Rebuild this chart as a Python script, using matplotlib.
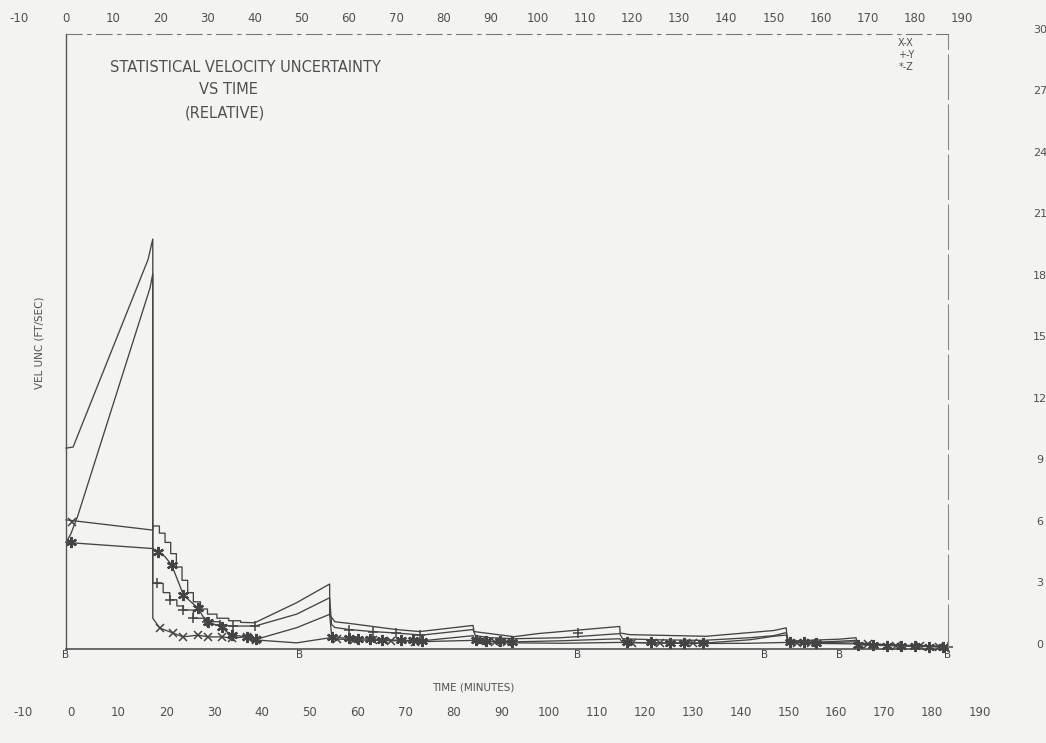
import matplotlib
matplotlib.use('Agg')
import matplotlib.pyplot as plt
from matplotlib.transforms import blended_transform_factory

# time (minutes), velocity uncertainty (ft/sec)
x_pts = [(0, 9.8), (1.5, 9.85), (17.4, 19.0), (18.4, 20.0), (18.4, 1.5), (19.9, 1.02), (22.7, 0.78),
         (24.8, 0.59), (28.0, 0.68), (30.1, 0.59), (33.1, 0.59), (35.2, 0.54), (38.4, 0.59), (40.3, 0.44),
         (48.9, 0.3), (56.0, 0.55), (58, 0.48), (62, 0.44), (66, 0.42), (70, 0.4), (75.5, 0.36),
         (86.3, 0.42), (90, 0.36), (95, 0.3), (105, 0.28), (117, 0.32), (122, 0.3), (128, 0.28),
         (136, 0.27), (145, 0.28), (152.7, 0.32), (156, 0.3), (160, 0.27), (167.5, 0.25), (172, 0.2),
         (177, 0.17), (182, 0.14), (187, 0.1)]
y_pts = [(0, 5.2), (1.0, 5.6), (2.5, 6.5), (17.8, 17.6), (18.4, 18.3), (18.4, 3.2), (20.6, 3.2),
         (20.6, 2.75), (22.0, 2.75), (22.0, 2.4), (23.5, 2.4), (23.5, 2.1), (24.9, 2.1), (24.9, 1.9),
         (27.0, 1.9), (27.0, 1.5), (29.8, 1.5), (29.8, 1.33), (32.6, 1.33), (32.6, 1.17), (35.5, 1.12),
         (40.1, 1.12), (48.9, 1.7), (55.9, 2.5), (56.3, 1.2), (57, 1.05), (60, 0.95), (65, 0.85),
         (70, 0.78), (75.5, 0.68), (86.3, 0.95), (86.8, 0.65), (90, 0.55), (95, 0.5), (105, 0.55),
         (117.4, 0.75), (118, 0.5), (125, 0.45), (135, 0.42), (145, 0.55), (150, 0.65), (152.7, 0.8),
         (153.2, 0.35), (158, 0.32), (164, 0.38), (167.5, 0.42), (168, 0.25), (175, 0.18), (182, 0.14),
         (187, 0.1)]
z_pts = [(0, 5.2), (18.4, 4.9), (19.6, 4.75), (21, 4.5), (22.4, 4.1), (23.6, 3.4), (24.9, 2.63),
         (26.5, 2.3), (28, 1.99), (29, 1.6), (30.1, 1.33), (31.5, 1.2), (33, 1.09), (34, 0.85),
         (35.1, 0.68), (36.7, 0.64), (38.3, 0.6), (40.3, 0.47), (48.9, 1.04), (55.9, 1.69), (56.3, 0.7),
         (58, 0.55), (62, 0.5), (66, 0.47), (70, 0.43), (75.5, 0.4), (86.3, 0.65), (86.8, 0.42),
         (90, 0.38), (95, 0.35), (105, 0.4), (117.4, 0.5), (118, 0.33), (125, 0.3), (136, 0.3),
         (145, 0.45), (150, 0.62), (152.7, 0.68), (153.2, 0.35), (158, 0.3), (164, 0.33), (167.5, 0.35),
         (168, 0.2), (175, 0.16), (182, 0.12), (187, 0.1)]
# upper envelope curve (no symbol)
u_pts = [(0, 6.3), (18.4, 5.8), (18.4, 6.0), (19.8, 6.0), (19.8, 5.65), (21, 5.65), (21, 5.2),
         (22.2, 5.2), (22.2, 4.65), (23.4, 4.65), (23.4, 4.0), (24.6, 4.0), (24.6, 3.35), (25.8, 3.35),
         (25.8, 2.75), (27, 2.75), (27, 2.3), (28.5, 2.3), (28.5, 1.95), (30, 1.95), (30, 1.7), (32, 1.7),
         (32, 1.5), (34.5, 1.5), (34.5, 1.38), (37, 1.38), (37, 1.3), (40, 1.28), (48.9, 2.26),
         (55.9, 3.17), (55.9, 1.66), (57, 1.33), (60, 1.25), (65, 1.1), (70, 0.95), (75, 0.85),
         (86.3, 1.15), (86.5, 0.85), (95, 0.6), (100, 0.75), (117.4, 1.1), (117.5, 0.78), (119.5, 0.7),
         (135.7, 0.62), (150, 0.9), (152.7, 1.03), (152.9, 0.45), (155, 0.4), (164, 0.48), (167.5, 0.55),
         (167.7, 0.3), (175, 0.2), (187, 0.12)]

# plotted symbols
x_marks = [(1.2, 6.2), (19.9, 1.02), (22.7, 0.78), (24.8, 0.59), (28, 0.68), (30.1, 0.59), (33.1, 0.59),
           (35.2, 0.54), (38.4, 0.59), (40.3, 0.44), (57.5, 0.48), (61, 0.44), (65, 0.42), (69, 0.4),
           (74, 0.36), (88, 0.38), (91, 0.35), (93.5, 0.32), (120, 0.31), (126, 0.29), (133, 0.27),
           (155, 0.3), (158, 0.27), (170, 0.23), (176, 0.17), (181, 0.14), (185, 0.11)]
y_marks = [(19.2, 3.2), (22.0, 2.4), (24.9, 1.9), (27.0, 1.5), (29.8, 1.33), (32.6, 1.17), (35.5, 1.12),
           (40.1, 1.12), (60, 0.95), (65, 0.85), (70, 0.78), (75, 0.7), (108.5, 0.78), (187, 0.1)]
z_marks = [(1.0, 5.2), (19.6, 4.75), (22.4, 4.1), (24.9, 2.63), (28, 1.99), (30.1, 1.33), (33, 1.09),
           (35.1, 0.68), (38.3, 0.6), (40.3, 0.47), (56.5, 0.6), (60, 0.52), (62, 0.5), (64.5, 0.48),
           (67, 0.46), (71, 0.43), (73.5, 0.42), (75.5, 0.4), (87, 0.42), (89, 0.4), (92, 0.37),
           (94.5, 0.35), (119, 0.33), (124, 0.32), (128, 0.3), (131, 0.3), (135, 0.3), (153.5, 0.35),
           (156.5, 0.32), (159, 0.3), (168, 0.2), (171, 0.18), (174, 0.17), (177, 0.15), (180, 0.14),
           (183, 0.12), (186, 0.1)]

b_times = [0, 49.6, 108.5, 148.1, 164, 187]
x_ticks = list(range(-10, 200, 10))
v_ticks = list(range(0, 33, 3))

ink = '#444444'
txt = '#505050'
W, H = 1046, 743

fig = plt.figure(figsize=(W / 100, H / 100), dpi=100, facecolor='#f3f3f1')
ax = fig.add_axes([66 / W, 1 - 649 / H, (948 - 66) / W, (649 - 34) / H])
ax.set_xlim(0, 187)
ax.set_ylim(0, 30)
ax.patch.set_alpha(0)
ax.set_xticks([])
ax.set_yticks([])
ax.spines['left'].set_color('#555555')
ax.spines['left'].set_linewidth(1.0)
ax.spines['bottom'].set_color(ink)
ax.spines['bottom'].set_linewidth(1.1)
ax.spines['top'].set_color('#777777')
ax.spines['top'].set_linewidth(0.8)
ax.spines['top'].set_linestyle((0, (14, 5, 3, 5)))
ax.spines['right'].set_color('#888888')
ax.spines['right'].set_linewidth(0.8)
ax.spines['right'].set_linestyle((0, (40, 5)))

for pts in [u_pts, x_pts, y_pts, z_pts]:
    t, v = zip(*pts)
    ax.plot(t, v, color=ink, lw=0.95, clip_on=False)

t, v = zip(*x_marks)
ax.plot(t, v, 'x', color=ink, ms=6, mew=1.1, clip_on=False)
t, v = zip(*y_marks)
ax.plot(t, v, '+', color=ink, ms=7, mew=1.1, clip_on=False)
t, v = zip(*z_marks)
ax.plot(t, v, marker=(6, 2, 0), ls='none', color=ink, ms=8, mew=1.6, clip_on=False)

for b in b_times:
    ax.text(b, -0.3, 'B', fontsize=7.5, color=ink, ha='center', va='center', clip_on=False)

# axis numbers along top and bottom, and at the right edge
top = blended_transform_factory(ax.transData, fig.transFigure)
for x in x_ticks:
    fig.text(x, 1 - 18 / H, str(x), transform=top, fontsize=8.5, color=txt, ha='center', va='center')
    fig.text(1.0 + 1.0145 * x, 1 - 712 / H, str(x), transform=top, fontsize=8.5, color=txt,
             ha='center', va='center')
right = blended_transform_factory(fig.transFigure, ax.transData)
for v in v_ticks:
    fig.text(1040 / W, v + 0.2, str(v), transform=right, fontsize=8, color=txt, ha='center', va='center')

fig.text(110 / W, 1 - 67 / H, 'STATISTICAL VELOCITY UNCERTAINTY', fontsize=10.5, color=txt, va='center')
fig.text(199 / W, 1 - 90 / H, 'VS TIME', fontsize=10.5, color=txt, va='center')
fig.text(185 / W, 1 - 113 / H, '(RELATIVE)', fontsize=10.5, color=txt, va='center')

fig.text(906 / W, 1 - 43 / H, 'X-X', fontsize=7, color=txt, ha='center', va='center')
fig.text(906 / W, 1 - 55 / H, '+-Y', fontsize=7, color=txt, ha='center', va='center')
fig.text(906 / W, 1 - 67 / H, '*-Z', fontsize=7, color=txt, ha='center', va='center')

fig.text(473 / W, 1 - 688 / H, 'TIME (MINUTES)', fontsize=7.5, color=txt, ha='center', va='center')
fig.text(40 / W, 1 - 343 / H, 'VEL UNC (FT/SEC)', fontsize=7.5, color=txt, rotation=90,
         ha='center', va='center')

fig.savefig('out.png', dpi=100, facecolor=fig.get_facecolor())
